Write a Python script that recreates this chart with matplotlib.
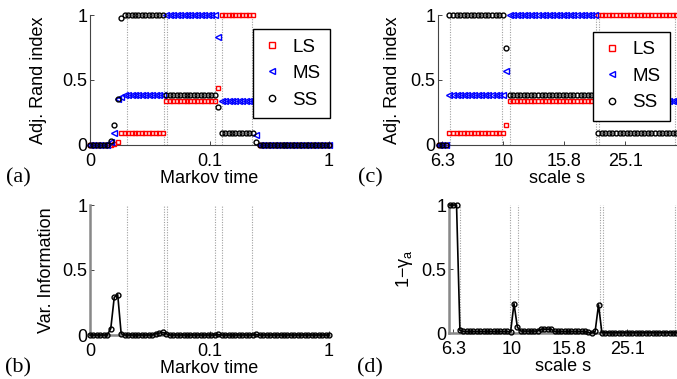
import numpy as np
import matplotlib
matplotlib.use("Agg")
import matplotlib.pyplot as plt
from matplotlib.ticker import NullLocator

plt.rcParams['font.family'] = ['Liberation Sans', 'DejaVu Sans']
plt.rcParams['font.size'] = 13
plt.rcParams['mathtext.fontset'] = 'custom'
plt.rcParams['mathtext.rm'] = 'Liberation Sans'
plt.rcParams['mathtext.it'] = 'Liberation Sans:italic'

# --- data: panels (a)/(b), Markov time (log sampled) ---
t_markov = np.logspace(-2, 0, 70)
ls_a = [0]*7 + [0.01, 0.025] + [0.09]*13 + [0.335]*15 + [0.44] + [1.0]*10 + [0.335] + [0]*21
ms_a = [0]*6 + [0.02, 0.095, 0.35, 0.37] + [0.385]*12 + [1.0]*15 + [0.83] + [0.335]*10 + [0.08] + [0]*21
ss_a = [0]*6 + [0.03, 0.15, 0.35, 0.98] + [1.0]*12 + [0.385]*15 + [0.29] + [0.095]*10 + [0.025] + [0]*21
vi_b = [0]*6 + [0.05, 0.29, 0.31, 0.01] + [0]*9 + [0.01, 0.015, 0.02, 0.01] + [0]*14 + [0.004] + [0]*10 + [0.004] + [0]*21
vlines_a = [0.0203, 0.0414, 0.0438, 0.1122, 0.1283, 0.2282]
xticks_a = [0.01, 0.1, 1]
xticklabels_a = ['0', '0.1', '1']

# --- data: panels (c)/(d), scale s (log sampled) ---
s_scale = np.logspace(0.788, 1.568, 68)
ls_c = [0]*3 + [0.095]*16 + [0.15] + [0.335]*25 + [1.0]*23
ms_c = [0]*3 + [0.385]*16 + [0.57] + [1.0]*25 + [0.335]*23
ss_c = [0]*3 + [1.0]*16 + [0.75] + [0.385]*25 + [0.095]*23
gam_d = [1.0]*3 + [0.02] + [0.012]*14 + [0.01, 0.23, 0.045] + [0.015]*6 + [0.03]*4 + [0.012]*10 + [0.004, 0.0, 0.012, 0.22] + [0.003]*23
vlines_c = [6.68, 9.90, 10.51, 20.17, 20.63, 36.7]
xticks_c = [6.31, 10, 15.85, 25.12]
xticklabels_c = ['6.3', '10', '15.8', '25.1']

W, H = 677, 379
fig = plt.figure(figsize=(W/100, H/100), dpi=100)

def px_axes(l, t, r, b):
    return fig.add_axes([l/W, 1 - b/H, (r - l)/W, (b - t)/H])

def style(ax, xlim, xticks, xlabels, xlabel, ylabel, spine_col, spine_lw, ylab_x):
    ax.set_xscale('log')
    ax.set_xlim(*xlim)
    ax.set_ylim(0, 1)
    ax.set_xticks(xticks)
    ax.set_xticklabels(xlabels)
    ax.xaxis.set_minor_locator(NullLocator())
    ax.set_yticks([0, 0.5, 1])
    ax.set_yticklabels(['0', '0.5', '1'])
    for s in ['top', 'right']:
        ax.spines[s].set_visible(False)
    for s in ['left', 'bottom']:
        ax.spines[s].set_color(spine_col)
        ax.spines[s].set_linewidth(spine_lw)
    ax.tick_params(direction='in', length=3, width=0.7, color='#444444')
    ax.tick_params(axis='y', pad=2)
    ax.tick_params(axis='x', pad=6)
    ax.set_xlabel(xlabel, labelpad=0)
    ax.set_ylabel(ylabel)
    ax.yaxis.set_label_coords(ylab_x, 0.5)

def dotted(ax, xs):
    ax.vlines(xs, 0, 1, colors='#a0a0a0', linestyles=(0, (1, 1.3)), linewidth=0.8, zorder=1)

def ari(ax, x, ls, ms, ss):
    kw = dict(linestyle='none', mfc='none', mew=1.0, clip_on=False, zorder=3)
    ax.plot(x, ls, 's', color='red', ms=3.3, label='LS', **kw)
    ax.plot(x, ms, '<', color='blue', ms=3.8, label='MS', **kw)
    ax.plot(x, ss, 'o', color='black', ms=3.5, label='SS', **kw)

leg_kw = dict(loc='upper right', borderaxespad=0, fancybox=False, edgecolor='black',
              framealpha=1, handlelength=1.0, handletextpad=0.6, labelspacing=0.5,
              borderpad=0.5, markerscale=1.3, fontsize=13.5)

# (a)
ax_a = px_axes(90, 15, 329, 145)
dotted(ax_a, vlines_a)
ari(ax_a, t_markov, ls_a, ms_a, ss_a)
style(ax_a, (0.01, 1), xticks_a, xticklabels_a, 'Markov time', 'Adj. Rand index', '#444444', 0.8, -0.18)
ax_a.legend(bbox_to_anchor=(1.004, 0.892), **leg_kw)

# (b)
ax_b = px_axes(90, 205, 329, 335)
dotted(ax_b, vlines_a)
ax_b.plot(t_markov, vi_b, 'o-', color='black', mfc='none', ms=3.5, mew=1.0, lw=1.2, clip_on=False, zorder=3)
style(ax_b, (0.01, 1), xticks_a, xticklabels_a, 'Markov time', 'Var. Information', '#888888', 1.8, -0.145)

# (c)
ax_c = px_axes(438, 15, 677, 145)
dotted(ax_c, vlines_c)
ari(ax_c, s_scale, ls_c, ms_c, ss_c)
style(ax_c, (6.10, 37.2), xticks_c, xticklabels_c, 'scale s', 'Adj. Rand index', '#444444', 0.8, -0.155)
ax_c.legend(bbox_to_anchor=(0.971, 0.872), **leg_kw)

# (d)
ax_d = px_axes(449, 205, 677, 333)
dotted(ax_d, vlines_c)
ax_d.plot(s_scale, gam_d, 'o-', color='black', mfc='none', ms=3.5, mew=1.0, lw=1.2, clip_on=False, zorder=3)
style(ax_d, (6.10, 37.2), xticks_c, xticklabels_c, 'scale s', '1\u2212\u03b3$_\\mathrm{a}$', '#888888', 1.8, -0.15)

# panel letters
for lab, x, y in [('(a)', 18, 178), ('(b)', 18, 368), ('(c)', 370, 178), ('(d)', 370, 368)]:
    fig.text(x/W, 1 - y/H, lab, family='Liberation Serif', fontsize=16, ha='center', va='center')

fig.savefig('out.png', dpi=100)
